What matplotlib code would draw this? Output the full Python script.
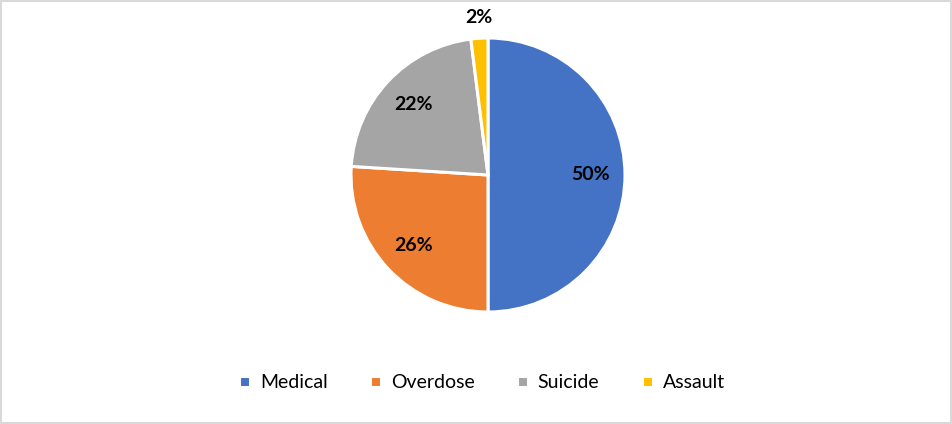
import matplotlib.pyplot as plt
from matplotlib.patches import Rectangle

# data
labels = ["Medical", "Overdose", "Suicide", "Assault"]
values = [50, 26, 22, 2]
colors = ["#4472C4", "#ED7D31", "#A5A5A5", "#FFC000"]

plt.rcParams['font.family'] = ['Lato', 'DejaVu Sans']

W, H = 953, 424
fig = plt.figure(figsize=(W / 100, H / 100), dpi=100)

cx, cy, r = 488, 175, 137
ax = fig.add_axes([(cx - r) / W, (H - cy - r) / H, 2 * r / W, 2 * r / H])

wedges, texts, autotexts = ax.pie(
    values, colors=colors, startangle=90, counterclock=False,
    autopct='%1.0f%%', pctdistance=0.75,
    wedgeprops=dict(edgecolor='white', linewidth=2.2),
    textprops=dict(fontsize=14, fontweight='bold', color='black'))

# small slice label sits outside
autotexts[3].set_position((-0.07, 1.15))

ax.set_xlim(-1, 1)
ax.set_ylim(-1, 1)
ax.set_aspect('equal')

fig.legend(wedges, labels, loc='center', bbox_to_anchor=(482 / W, (H - 383) / H),
           ncol=4, frameon=False, fontsize=14, handlelength=0.55, handleheight=0.55,
           handletextpad=0.5, columnspacing=2.2)

fig.patches.append(Rectangle((0.001, 0.002), 0.997, 0.996, transform=fig.transFigure,
                             fill=False, edgecolor='#D9D9D9', linewidth=1.5))

fig.savefig("out.png", dpi=100)
